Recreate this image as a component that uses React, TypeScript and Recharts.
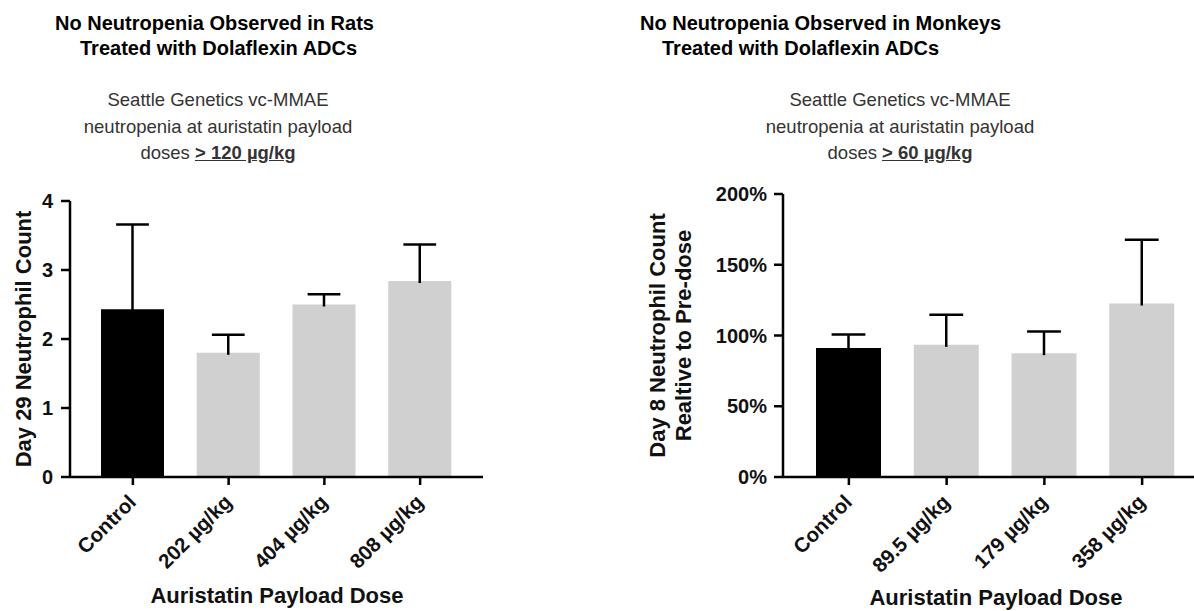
import React from "react";
import {Bar, BarChart, Cell, Label, XAxis, YAxis} from "recharts";

// rats, day 29 neutrophil count (mean and upper SD)
const ratDoses = ["Control", "202 µg/kg", "404 µg/kg", "808 µg/kg"];
const ratMeans = [2.43, 1.8, 2.5, 2.84];
const ratSd = [1.23, 0.26, 0.15, 0.53];
const ratTicks = [0, 1, 2, 3, 4];

// monkeys, day 8 neutrophil count relative to pre-dose (%)
const monkeyDoses = ["Control", "89.5 µg/kg", "179 µg/kg", "358 µg/kg"];
const monkeyMeans = [91.1, 93.4, 87.5, 122.6];
const monkeySd = [9.6, 21.2, 15.3, 45.1];
const monkeyTicks = [0, 50, 100, 150, 200];

const ratData = ratDoses.map((name, i) => ({name, mean: ratMeans[i], sd: ratSd[i]}));
const monkeyData = monkeyDoses.map((name, i) => ({name, mean: monkeyMeans[i], sd: monkeySd[i]}));

const FONT = "'Liberation Sans', Arial, Helvetica, sans-serif";
const GREY = "#d0d0d0";
const AXIS = {stroke: "#000", strokeWidth: 2.5};

const ErrorCap = (props: any) => {
  const {x, y, width, height} = props;
  const cx = x + width / 2;
  const cap = width * 0.26;
  return (
    <g>
      <line x1={cx} x2={cx} y1={y} y2={y + height + 2} stroke="#000" strokeWidth={2.5} />
      <line x1={cx - cap} x2={cx + cap} y1={y} y2={y} stroke="#000" strokeWidth={2.5} />
    </g>
  );
};

const SlantTick = (props: any) => {
  const {x, y, payload} = props;
  return (
    <g transform={`translate(${x - 6},${y})`}>
      <text x={0} y={0} dy="0.72em" textAnchor="end" transform="rotate(-45)"
            fontSize={20.5} fontWeight="bold" fill="#111" fontFamily={FONT}>
        {payload.value}
      </text>
    </g>
  );
};

const yTick = {fontSize: 20, fontWeight: "bold", fill: "#111", fontFamily: FONT};

const ratLabel = (p: any) => {
  const {x, y, height} = p.viewBox;
  const cx = x + 23;
  const cy = y + height / 2;
  return (
    <text x={cx} y={cy} transform={`rotate(-90,${cx},${cy})`} textAnchor="middle" dominantBaseline="central"
          fontSize={22} fontWeight="bold" fill="#111" fontFamily={FONT}>
      Day 29 Neutrophil Count
    </text>
  );
};

const monkeyLabel = (p: any) => {
  const {x, y, height} = p.viewBox;
  const cy = y + height / 2;
  const lines = ["Day 8 Neutrophil Count", "Realtive to Pre-dose"];
  return (
    <g>
      {lines.map((t, i) => {
        const cx = x + 57 + i * 26.5;
        return (
          <text key={t} x={cx} y={cy} transform={`rotate(-90,${cx},${cy})`} textAnchor="middle"
                dominantBaseline="central" fontSize={22} fontWeight="bold" fill="#111" fontFamily={FONT}>
            {t}
          </text>
        );
      })}
    </g>
  );
};

const text = (left: number, top: number, size: number, bold: boolean, color = "#000") => ({
  position: "absolute" as const, left, top, fontSize: size, lineHeight: `${size + 4}px`,
  fontWeight: bold ? "bold" : "normal", color, fontFamily: FONT, whiteSpace: "pre" as const,
});

const centered = (cx: number, cy: number, size: number, bold: boolean, color = "#000") => ({
  position: "absolute" as const, left: cx - 250, width: 500, top: cy - (size + 4) / 2, textAlign: "center" as const,
  fontSize: size, lineHeight: `${size + 4}px`, fontWeight: bold ? "bold" : "normal", color, fontFamily: FONT,
  whiteSpace: "pre" as const,
});

const Subtitle = ({cx, dose}: {cx: number; dose: string}) => (
  <>
    <div style={centered(cx, 100, 18.5, false, "#333")}>Seattle Genetics vc-MMAE</div>
    <div style={centered(cx, 127, 18.5, false, "#333")}>neutropenia at auristatin payload</div>
    <div style={centered(cx, 153, 18.5, false, "#333")}>
      doses <span style={{fontWeight: "bold", textDecoration: "underline"}}>{dose}</span>
    </div>
  </>
);

const App = () => {
  return (
    <div style={{position: "absolute", left: 0, top: 0, width: 1194, height: 611, overflow: "hidden", background: "#fff"}}>
      <div style={text(55, 11, 20, true)}>No Neutropenia Observed in Rats</div>
      <div style={text(80, 36, 20, true)}>Treated with Dolaflexin ADCs</div>
      <div style={text(640, 11, 20, true)}>No Neutropenia Observed in Monkeys</div>
      <div style={text(662, 36, 20, true)}>Treated with Dolaflexin ADCs</div>
      <Subtitle cx={218} dose="> 120 µg/kg" />
      <Subtitle cx={900} dose="> 60 µg/kg" />

      <div style={{position: "absolute", left: 0, top: 0}}>
        <BarChart width={490} height={611} data={ratData} margin={{top: 201, right: 7, bottom: 104, left: 0}}>
          <XAxis dataKey="name" height={30} padding={{left: 15, right: 15}} axisLine={AXIS} tickLine={AXIS}
                 tickSize={8} tickMargin={8} tick={<SlantTick />} interval={0} />
          <YAxis domain={[0, 4]} ticks={ratTicks} width={70} axisLine={AXIS} tickLine={AXIS}
                 tickSize={9} tickMargin={8} tick={yTick} interval={0}>
            <Label content={ratLabel} />
          </YAxis>
          <Bar dataKey="mean" stackId="a" barSize={63} isAnimationActive={false}>
            {ratData.map((d, i) => <Cell key={d.name} fill={i === 0 ? "#000" : GREY} />)}
          </Bar>
          <Bar dataKey="sd" stackId="a" barSize={63} isAnimationActive={false} shape={ErrorCap} />
        </BarChart>
      </div>

      <div style={{position: "absolute", left: 600, top: 0}}>
        <BarChart width={594} height={611} data={monkeyData} margin={{top: 194, right: 0, bottom: 104, left: 0}}>
          <XAxis dataKey="name" height={30} padding={{left: 17, right: 3}} axisLine={AXIS} tickLine={AXIS}
                 tickSize={8} tickMargin={8} tick={<SlantTick />} interval={0} />
          <YAxis domain={[0, 200]} ticks={monkeyTicks} width={183} axisLine={AXIS} tickLine={AXIS}
                 tickSize={9} tickMargin={7} tick={yTick} tickFormatter={(v: number) => `${v}%`} interval={0}>
            <Label content={monkeyLabel} />
          </YAxis>
          <Bar dataKey="mean" stackId="a" barSize={65} isAnimationActive={false}>
            {monkeyData.map((d, i) => <Cell key={d.name} fill={i === 0 ? "#000" : GREY} />)}
          </Bar>
          <Bar dataKey="sd" stackId="a" barSize={65} isAnimationActive={false} shape={ErrorCap} />
        </BarChart>
      </div>

      <div style={centered(277, 596, 22, true, "#111")}>Auristatin Payload Dose</div>
      <div style={centered(996, 598, 22, true, "#111")}>Auristatin Payload Dose</div>
    </div>
  );
};

export default App;
